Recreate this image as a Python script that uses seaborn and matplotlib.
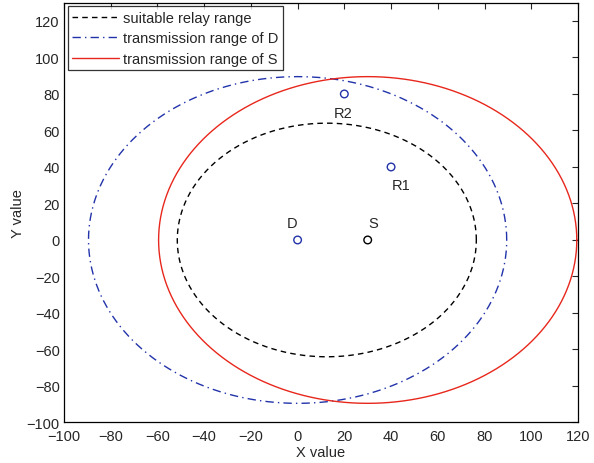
import numpy as np
import pandas as pd
import matplotlib
matplotlib.use("Agg")
import matplotlib.pyplot as plt
import seaborn as sns

# ---- data ----
range_names = ["suitable relay range", "transmission range of D", "transmission range of S"]
range_cx = [12.5, 0.0, 30.0]
range_cy = [0.0, 0.0, 0.0]
range_r = [64.0, 89.5, 89.5]
range_colors = ["black", "#2233aa", "#e8271c"]
range_styles = [(0, (4, 3)), (0, (6, 3, 1, 3)), "-"]

node_names = ["D", "S", "R1", "R2"]
node_x = [0, 30, 40, 20]
node_y = [0, 0, 40, 80]
node_colors = ["#2233aa", "black", "#2233aa", "#2233aa"]
label_x = [-2.5, 32.5, 44.5, 19.5]
label_y = [9.5, 9.5, 30.0, 69.5]

x_ticks = list(range(-100, 121, 20))
y_ticks = list(range(-100, 121, 20))

sns.set_style("white")
plt.rcParams["font.family"] = ["Liberation Sans", "DejaVu Sans"]

fig = plt.figure(figsize=(5.94, 4.64), dpi=100)
ax = fig.add_axes([0.1077, 0.0873, 0.973 - 0.1077, 0.992 - 0.0873])

theta = np.linspace(0, 2 * np.pi, 721)
for name, cx, cy, r, c, ls in zip(range_names, range_cx, range_cy, range_r, range_colors, range_styles):
    df = pd.DataFrame({"x": cx + r * np.cos(theta), "y": cy + r * np.sin(theta)})
    sns.lineplot(data=df, x="x", y="y", sort=False, ax=ax, color=c, lw=1.0,
                 linestyle=ls, label=name, estimator=None)

for i in range(len(node_names)):
    sns.scatterplot(x=[node_x[i]], y=[node_y[i]], ax=ax, marker="o", s=30,
                    facecolor="none", edgecolor=node_colors[i], linewidth=1.0, legend=False)
    ax.text(label_x[i], label_y[i], node_names[i], ha="center", va="center", fontsize=10.5)

ax.set_xlim(-100, 120)
ax.set_ylim(-100, 130)
ax.set_xticks(x_ticks)
ax.set_yticks(y_ticks)
ax.set_xlabel("X value", fontsize=10.5, labelpad=1)
ax.set_ylabel("Y value", fontsize=10.5, labelpad=1)
ax.tick_params(direction="in", top=True, right=True, length=4, labelsize=10.5, width=0.8)
ax.tick_params(axis="x", pad=5)
ax.tick_params(axis="y", pad=3)
for s in ax.spines.values():
    s.set_color("black")
    s.set_linewidth(0.9)

leg = ax.legend(loc="upper left", fontsize=10.5, frameon=True, fancybox=False,
                borderpad=0.3, labelspacing=0.45, handlelength=3.2, handletextpad=0.3,
                borderaxespad=0.25)
leg.get_frame().set_edgecolor("black")
leg.get_frame().set_linewidth(0.9)

fig.savefig("out.png", dpi=100)
